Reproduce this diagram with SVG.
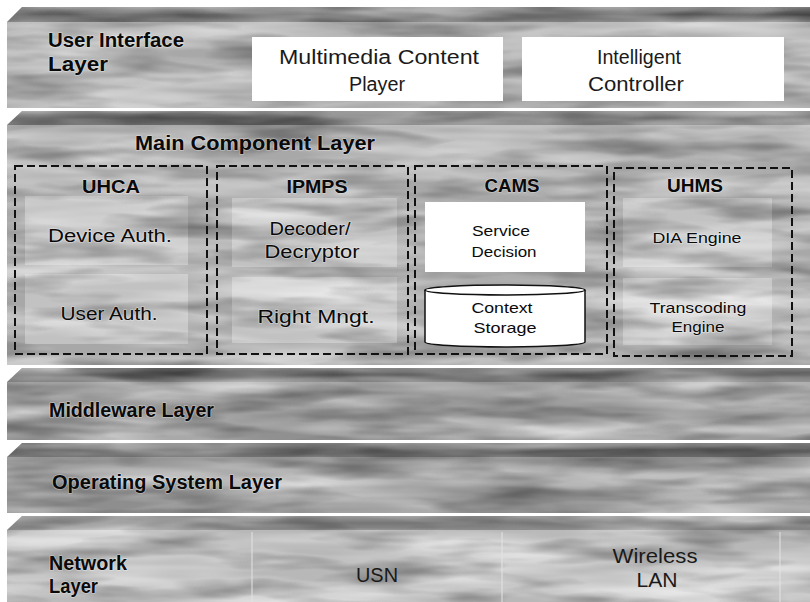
<svg xmlns="http://www.w3.org/2000/svg" width="810" height="602" viewBox="0 0 810 602">
  <style>
    .lbl { font-family: "Liberation Sans", Arial, sans-serif; fill: #0a0a0a; }
    .halo { paint-order: stroke; stroke: #ffffff; stroke-opacity: 0.35; stroke-width: 1.6px; stroke-linejoin: round; }
    .layer-title { font-size: 20px; font-weight: bold; }
    .ui-text { font-size: 20px; text-anchor: middle; fill: #1a1a1a; }
    .grp-title { font-size: 19px; text-anchor: middle; font-weight: bold; }
    .box-text { font-size: 18px; text-anchor: middle; }
    .small-text { font-size: 15px; text-anchor: middle; }
    .eng-text { font-size: 14px; text-anchor: middle; }
    .white-box { fill: #ffffff; }
    .tex-box { fill: #c2c2c2; }
    .dash { fill: none; stroke: #111; stroke-width: 2; stroke-dasharray: 8 4; }
    .cyl { fill: #ffffff; stroke: #111; stroke-width: 1.5; }
    .seam { stroke: #e4e4e4; stroke-opacity: 0.5; stroke-width: 2; }
  </style>
  <defs>
    <!-- cloudy marble shading laid over a flat grey fill -->
    <filter id="marble" x="0" y="0" width="1" height="1" color-interpolation-filters="sRGB">
      <feTurbulence type="fractalNoise" baseFrequency="0.005 0.045" numOctaves="3" seed="7" result="t1"/>
      <feColorMatrix in="t1" type="matrix" values="0 0 0 0 1  0 0 0 0 1  0 0 0 0 1  1.2 0 0 0 -0.38" result="light"/>
      <feComposite in="light" in2="SourceGraphic" operator="in" result="lightIn"/>
      <feTurbulence type="fractalNoise" baseFrequency="0.009 0.05" numOctaves="3" seed="21" result="t2"/>
      <feColorMatrix in="t2" type="matrix" values="0 0 0 0 0  0 0 0 0 0  0 0 0 0 0  0.8 0 0 0 -0.36" result="dark"/>
      <feComposite in="dark" in2="SourceGraphic" operator="in" result="darkIn"/>
      <feMerge>
        <feMergeNode in="SourceGraphic"/>
        <feMergeNode in="lightIn"/>
        <feMergeNode in="darkIn"/>
      </feMerge>
    </filter>
    <linearGradient id="bevel" x1="0" y1="0" x2="0" y2="1">
      <stop offset="0" stop-color="#808080"/>
      <stop offset="0.5" stop-color="#555555"/>
      <stop offset="1" stop-color="#6a6a6a"/>
    </linearGradient>
    <linearGradient id="bevelLight" x1="0" y1="0" x2="0" y2="1">
      <stop offset="0" stop-color="#9a9a9a"/>
      <stop offset="0.5" stop-color="#767676"/>
      <stop offset="1" stop-color="#8a8a8a"/>
    </linearGradient>
  </defs>

  <rect width="810" height="602" fill="#ffffff"/>

  <!-- User Interface Layer -->
  <g id="ui-layer">
    <g filter="url(#marble)">
      <polygon points="22,7 810,7 810,22 7,22" fill="url(#bevel)"/>
      <rect x="7" y="22" width="803" height="86" fill="#a8a8a8"/>
    </g>
    <text class="lbl halo layer-title" x="48" y="47" textLength="136" lengthAdjust="spacingAndGlyphs">User Interface</text>
    <text class="lbl halo layer-title" x="48" y="71" textLength="60" lengthAdjust="spacingAndGlyphs">Layer</text>
  </g>
  <g id="multimedia-content-player">
    <rect class="white-box" x="252" y="37" width="251" height="64"/>
    <text class="lbl ui-text" x="379" y="64" textLength="200" lengthAdjust="spacingAndGlyphs">Multimedia Content</text>
    <text class="lbl ui-text" x="377" y="91" textLength="56" lengthAdjust="spacingAndGlyphs">Player</text>
  </g>
  <g id="intelligent-controller">
    <rect class="white-box" x="522" y="37" width="262" height="64"/>
    <text class="lbl ui-text" x="639" y="64" textLength="84" lengthAdjust="spacingAndGlyphs">Intelligent</text>
    <text class="lbl ui-text" x="636" y="91" textLength="96" lengthAdjust="spacingAndGlyphs">Controller</text>
  </g>

  <!-- Main Component Layer -->
  <g id="main-component-layer">
    <g filter="url(#marble)">
      <polygon points="22,111 810,111 810,125 7,125" fill="url(#bevel)"/>
      <rect x="7" y="125" width="803" height="240" fill="#a8a8a8"/>
    </g>
    <text class="lbl halo" x="255" y="150" font-size="20" font-weight="bold" text-anchor="middle" textLength="240" lengthAdjust="spacingAndGlyphs">Main Component Layer</text>
  </g>

  <g id="uhca">
    <rect class="dash" x="15" y="166" width="192" height="188"/>
    <text class="lbl halo grp-title" x="111" y="193" textLength="58" lengthAdjust="spacingAndGlyphs">UHCA</text>
  </g>
  <g id="device-auth">
    <rect class="tex-box" x="25" y="196" width="163" height="69" filter="url(#marble)"/>
    <text class="lbl halo box-text" x="110" y="242" textLength="124" lengthAdjust="spacingAndGlyphs">Device Auth.</text>
  </g>
  <g id="user-auth">
    <rect class="tex-box" x="25" y="274" width="163" height="70" filter="url(#marble)"/>
    <text class="lbl halo box-text" x="109" y="320" textLength="97" lengthAdjust="spacingAndGlyphs">User Auth.</text>
  </g>

  <g id="ipmps">
    <rect class="dash" x="217" y="166" width="191" height="188"/>
    <text class="lbl halo grp-title" x="317" y="193" textLength="61" lengthAdjust="spacingAndGlyphs">IPMPS</text>
  </g>
  <g id="decoder-decryptor">
    <rect class="tex-box" x="232" y="198" width="165" height="69" fill="#cbcbcb" filter="url(#marble)"/>
    <text class="lbl halo box-text" x="310" y="235" textLength="81" lengthAdjust="spacingAndGlyphs">Decoder/</text>
    <text class="lbl halo box-text" x="312" y="258" textLength="95" lengthAdjust="spacingAndGlyphs">Decryptor</text>
  </g>
  <g id="right-mngt">
    <rect class="tex-box" x="232" y="277" width="165" height="66" fill="#cbcbcb" filter="url(#marble)"/>
    <text class="lbl halo box-text" x="316" y="323" textLength="117" lengthAdjust="spacingAndGlyphs">Right Mngt.</text>
  </g>

  <g id="cams">
    <rect class="dash" x="415" y="166" width="192" height="188"/>
    <text class="lbl halo grp-title" x="512" y="192" textLength="55" lengthAdjust="spacingAndGlyphs">CAMS</text>
  </g>
  <g id="service-decision">
    <rect class="white-box" x="425" y="202" width="160" height="70"/>
    <text class="lbl small-text" x="501" y="236" textLength="58" lengthAdjust="spacingAndGlyphs">Service</text>
    <text class="lbl small-text" x="504" y="257" font-size="16" textLength="65" lengthAdjust="spacingAndGlyphs">Decision</text>
  </g>
  <g id="context-storage">
    <path class="cyl" d="M425,290 V342 A80,5 0 0 0 585,342 V290"/>
    <ellipse class="cyl" cx="505" cy="290" rx="80" ry="5"/>
    <text class="lbl small-text" x="502" y="313" font-size="16" textLength="61" lengthAdjust="spacingAndGlyphs">Context</text>
    <text class="lbl small-text" x="505" y="333" font-size="16" textLength="63" lengthAdjust="spacingAndGlyphs">Storage</text>
  </g>

  <g id="uhms">
    <rect class="dash" x="614" y="168" width="178" height="188"/>
    <text class="lbl halo grp-title" x="695" y="192" textLength="56" lengthAdjust="spacingAndGlyphs">UHMS</text>
  </g>
  <g id="dia-engine">
    <rect class="tex-box" x="623" y="198" width="149" height="69" fill="#c6c6c6" filter="url(#marble)"/>
    <text class="lbl halo eng-text" x="697" y="243" textLength="89" lengthAdjust="spacingAndGlyphs">DIA Engine</text>
  </g>
  <g id="transcoding-engine">
    <rect class="tex-box" x="623" y="278" width="149" height="67" fill="#c6c6c6" filter="url(#marble)"/>
    <text class="lbl halo eng-text" x="698" y="313" textLength="97" lengthAdjust="spacingAndGlyphs">Transcoding</text>
    <text class="lbl halo eng-text" x="698" y="332" textLength="53" lengthAdjust="spacingAndGlyphs">Engine</text>
  </g>

  <!-- Middleware Layer -->
  <g id="middleware-layer">
    <g filter="url(#marble)">
      <polygon points="22,368 810,368 810,382 7,382" fill="url(#bevel)"/>
      <rect x="7" y="382" width="803" height="58" fill="#909090"/>
    </g>
    <text class="lbl halo layer-title" x="49" y="417" textLength="165" lengthAdjust="spacingAndGlyphs">Middleware Layer</text>
  </g>

  <!-- Operating System Layer -->
  <g id="operating-system-layer">
    <g filter="url(#marble)">
      <polygon points="22,443 810,443 810,457 7,457" fill="url(#bevel)"/>
      <rect x="7" y="457" width="803" height="56" fill="#8e8e8e"/>
    </g>
    <text class="lbl halo layer-title" x="52" y="489" textLength="230" lengthAdjust="spacingAndGlyphs">Operating System Layer</text>
  </g>

  <!-- Network Layer -->
  <g id="network-layer">
    <g filter="url(#marble)">
      <polygon points="22,516 810,516 810,530 7,530" fill="url(#bevelLight)"/>
      <rect x="7" y="530" width="803" height="72" fill="#b8b8b8"/>
    </g>
    <line class="seam" x1="252" y1="532" x2="252" y2="602"/>
    <line class="seam" x1="502" y1="532" x2="502" y2="602"/>
    <line class="seam" x1="780" y1="532" x2="780" y2="602"/>
    <text class="lbl halo layer-title" x="49" y="570" textLength="78" lengthAdjust="spacingAndGlyphs">Network</text>
    <text class="lbl halo layer-title" x="49" y="593" textLength="49" lengthAdjust="spacingAndGlyphs">Layer</text>
  </g>
  <g id="usn">
    <text class="lbl ui-text" x="377" y="582" textLength="42" lengthAdjust="spacingAndGlyphs">USN</text>
  </g>
  <g id="wireless-lan">
    <text class="lbl ui-text" x="655" y="563" textLength="85" lengthAdjust="spacingAndGlyphs">Wireless</text>
    <text class="lbl ui-text" x="657" y="587" textLength="41" lengthAdjust="spacingAndGlyphs">LAN</text>
  </g>
</svg>
